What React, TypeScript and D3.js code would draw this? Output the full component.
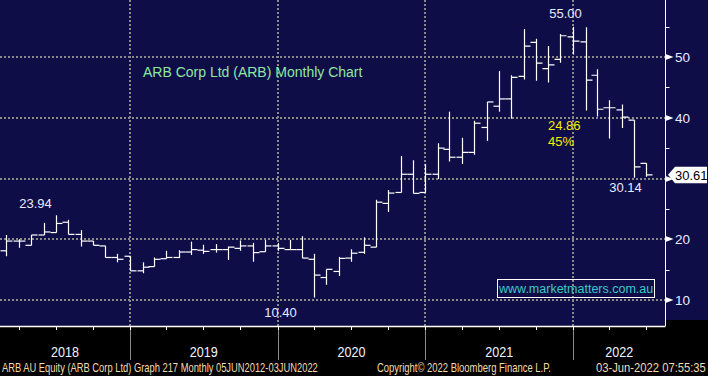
import React, { useLayoutEffect, useRef, useState } from 'react';
import * as d3 from 'd3';

// ARB Corp Ltd monthly OHLC, Feb 2018 .. Jun 2022
const months = [
  '2018-02','2018-03','2018-04','2018-05','2018-06','2018-07','2018-08','2018-09','2018-10','2018-11','2018-12',
  '2019-01','2019-02','2019-03','2019-04','2019-05','2019-06','2019-07','2019-08','2019-09','2019-10','2019-11','2019-12',
  '2020-01','2020-02','2020-03','2020-04','2020-05','2020-06','2020-07','2020-08','2020-09','2020-10','2020-11','2020-12',
  '2021-01','2021-02','2021-03','2021-04','2021-05','2021-06','2021-07','2021-08','2021-09','2021-10','2021-11','2021-12',
  '2022-01','2022-02','2022-03','2022-04','2022-05','2022-06'
];
const opens = [
  18.1,19.7,19.0,20.7,21.1,22.8,20.8,19.7,18.9,17.0,17.2,
  14.8,15.5,16.8,17.0,17.9,18.2,18.3,18.3,18.5,18.9,17.95,18.9,
  18.3,18.3,16.7,13.7,14.7,16.9,17.85,18.7,25.9,27.7,30.7,27.7,
  30.7,34.8,33.5,34.3,38.4,41.9,43.1,46.8,52.4,48.1,49.6,53.3,
  52.5,47.0,41.65,41.3,39.6,32.5
];
const highs = [
  20.7,20.0,20.7,22.7,23.94,23.2,21.5,19.7,18.9,17.6,17.2,
  16.2,17.0,18.1,18.2,19.6,19.1,19.2,18.8,19.8,19.4,19.9,19.4,
  19.9,20.5,17.6,15.05,17.1,18.35,20.3,26.5,28.1,33.7,33.0,32.4,
  35.8,41.0,36.7,39.5,42.6,47.7,47.0,54.6,53.0,51.8,53.8,55.0,
  54.9,48.0,42.9,42.2,39.6,32.5
];
const lows = [
  17.2,18.6,19.0,20.7,21.1,20.8,18.8,19.0,17.0,16.2,14.8,
  14.4,15.5,16.8,16.9,17.4,17.6,17.8,16.6,18.1,16.3,17.95,18.1,
  18.3,16.9,10.4,12.5,13.95,16.3,17.6,18.7,24.5,27.7,27.55,27.7,
  29.9,32.8,32.4,33.9,36.2,41.0,39.85,46.3,46.1,45.8,49.05,50.4,
  41.2,40.2,36.6,38.3,30.14,30.3
];
const closes = [
  19.7,19.7,20.7,21.2,22.6,20.8,19.7,19.0,17.0,16.7,14.8,
  15.4,16.7,17.0,17.9,18.3,18.0,18.3,18.7,18.9,17.8,18.9,18.5,
  18.3,16.9,14.1,15.05,16.85,17.7,19.0,26.1,27.6,30.7,27.55,30.7,
  35.0,33.5,34.3,39.1,42.6,43.1,46.65,51.8,49.0,48.7,53.5,52.6,
  46.2,41.4,41.65,40.1,31.9,30.61
];
const priceTicks = [10, 20, 30, 40, 50];
const minorTicks = [15, 25, 35, 45, 55];
const years = [2018, 2019, 2020, 2021, 2022];
const lastPrice = 30.61;

const W = 708;
const H = 376;
const AXIS_X = 665.5;
const PLOT_BOTTOM = 326;
const FONT = "'Liberation Sans', Arial, sans-serif";
const NAVY = '#0f0d48';
const GRID = '#8a8a8a';
const LABEL = '#e4ecff';
const FOOT = '#f2dcb0';

// text squeezed horizontally to a target width (condensed Bloomberg font)
function FitText(props: { x: number; y: number; width: number; anchor?: 'start' | 'middle'; size: number; fill: string; children: string }) {
  const ref = useRef<SVGTextElement>(null);
  const [k, setK] = useState(1);
  useLayoutEffect(() => {
    if (ref.current) {
      const w = ref.current.getComputedTextLength();
      if (w > 0) setK(props.width / w);
    }
  }, [props.width, props.children]);
  const x0 = props.anchor === 'middle' ? props.x : props.x;
  return (
    <text ref={ref} transform={`translate(${x0},${props.y}) scale(${k},1)`} x={0} y={0}
      fill={props.fill} fontSize={props.size} fontFamily={FONT} textAnchor={props.anchor || 'start'}>
      {props.children}
    </text>
  );
}

export default function App() {
  const x = d3.scaleTime()
    .domain([new Date(2019, 0, 1), new Date(2022, 0, 1)])
    .range([130, 573]);
  const y = d3.scaleLinear().domain([10, 50]).range([300, 57]);

  // each monthly bar is stamped at the end of its month
  const barDate = (m: string) => {
    const [yy, mm] = m.split('-').map(Number);
    return new Date(yy, mm, 1);
  };
  const bars = months.map((m, i) => ({
    x: Math.round(x(barDate(m))) + 0.5,
    o: y(opens[i]), h: y(highs[i]), l: y(lows[i]), c: y(closes[i]),
  }));
  const idx = (m: string) => months.indexOf(m);

  const yearX = years.map((yr) => x(new Date(yr, 0, 1)));
  const quarterTicks = d3.timeMonth
    .every(3)!
    .range(new Date(2018, 0, 1), new Date(2022, 7, 1))
    .map((d) => x(d))
    .filter((v) => v >= 0 && v <= AXIS_X);

  const cy = y(lastPrice);
  const TL = 6;

  const annot = (m: string, field: number[], dx: number, dy: number, txt: string) => {
    const i = idx(m);
    return (
      <text x={bars[i].x + dx} y={y(field[i]) + dy} fill={LABEL} fontSize={13} fontFamily={FONT} textAnchor="middle">{txt}</text>
    );
  };

  return (
    <svg width={W} height={H} style={{ position: 'absolute', left: 0, top: 0, display: 'block' }}>
      <rect x={0} y={0} width={W} height={H} fill="#000" />
      <rect x={0} y={0} width={AXIS_X} height={PLOT_BOTTOM} fill={NAVY} />
      <rect x={AXIS_X} y={0} width={W - AXIS_X} height={320} fill={NAVY} />

      {/* grid */}
      <g stroke={GRID} strokeWidth={2} strokeDasharray="2 2">
        {priceTicks.map((t) => (
          <line key={t} x1={0} x2={AXIS_X} y1={Math.round(y(t))} y2={Math.round(y(t))} />
        ))}
        {yearX.slice(1).map((v, i) => (
          <line key={i} x1={Math.round(v)} x2={Math.round(v)} y1={0} y2={PLOT_BOTTOM} />
        ))}
      </g>

      {/* OHLC bars */}
      <defs>
        <clipPath id="plotclip"><rect x={0} y={0} width={AXIS_X} height={PLOT_BOTTOM} /></clipPath>
      </defs>
      <g stroke="#fff" strokeWidth={1.2} clipPath="url(#plotclip)">
        {bars.map((b, i) => (
          <g key={i}>
            <line x1={b.x} x2={b.x} y1={b.h} y2={b.l} />
            <line x1={b.x - TL} x2={b.x} y1={b.o} y2={b.o} />
            <line x1={b.x} x2={b.x + TL} y1={b.c} y2={b.c} />
          </g>
        ))}
      </g>

      {/* title and annotations */}
      <text x={143} y={77} fill="#8fe6a0" fontSize={14} fontFamily={FONT}>ARB Corp Ltd (ARB) Monthly Chart</text>
      {annot('2018-06', highs, -21, -7, '23.94')}
      {annot('2020-03', lows, -34, 19, '10.40')}
      {annot('2021-12', highs, -8, -9, '55.00')}
      {annot('2022-05', lows, -9, 14, '30.14')}
      <text x={548} y={130} fill="#f2f000" fontSize={13} fontFamily={FONT}>24.86</text>
      <text x={548} y={146} fill="#f2f000" fontSize={13} fontFamily={FONT}>45%</text>

      {/* website box */}
      <rect x={497.5} y={279.5} width={157} height={18} fill="none" stroke="#fff" strokeWidth={1} />
      <text x={499} y={293} fill="#3ec8c4" fontSize={12.5} fontFamily={FONT}>www.marketmatters.com.au</text>

      {/* right axis */}
      <line x1={AXIS_X} x2={AXIS_X} y1={0} y2={PLOT_BOTTOM} stroke="#fff" strokeWidth={1} />
      {minorTicks.map((t) => (
        <line key={t} x1={AXIS_X} x2={AXIS_X + 4} y1={Math.round(y(t)) + 0.5} y2={Math.round(y(t)) + 0.5} stroke="#fff" strokeWidth={1} />
      ))}
      {priceTicks.map((t) => {
        const ty = Math.round(y(t));
        const hidden = Math.abs(y(t) - cy) < 12; // covered by the last-price tag
        return (
          <g key={t}>
            <path d={`M${AXIS_X},${ty - 3} L${AXIS_X + 8},${ty} L${AXIS_X},${ty + 3} Z`} fill="#fff" />
            {!hidden && <text x={675} y={ty + 5} fill={LABEL} fontSize={13.5} fontFamily={FONT}>{t}</text>}
          </g>
        );
      })}
      <path d={`M668,${cy} L675,${cy - 8} L707,${cy - 8} L707,${cy + 8.5} L675,${cy + 8.5} Z`} fill="#fff" />
      <text x={675} y={cy + 5} fill="#000" fontSize={13} fontFamily={FONT}>{lastPrice.toFixed(2)}</text>

      {/* bottom axis */}
      <line x1={0} x2={AXIS_X} y1={PLOT_BOTTOM + 0.5} y2={PLOT_BOTTOM + 0.5} stroke="#fff" strokeWidth={1.5} />
      {quarterTicks.map((v, i) => (
        <line key={i} x1={Math.round(v) + 0.5} x2={Math.round(v) + 0.5} y1={PLOT_BOTTOM} y2={PLOT_BOTTOM + 4} stroke="#fff" strokeWidth={1} />
      ))}
      {yearX.slice(1).map((v, i) => (
        <line key={i} x1={Math.round(v) + 0.5} x2={Math.round(v) + 0.5} y1={PLOT_BOTTOM + 4} y2={360} stroke="#8a8a8a" strokeWidth={1} />
      ))}
      {years.map((yr, i) => {
        const a = Math.max(0, yearX[i]);
        const b = i + 1 < years.length ? yearX[i + 1] : AXIS_X;
        return (
          <FitText key={yr} x={(a + Math.min(b, AXIS_X)) / 2} y={356.5} size={15} fill="#f0f2ff" anchor="middle" width={28}>{String(yr)}</FitText>
        );
      })}

      {/* footer */}
      <FitText x={2} y={371.5} size={12} fill={FOOT} width={316}>ARB AU Equity (ARB Corp Ltd) Graph 217  Monthly 05JUN2012-03JUN2022</FitText>
      <FitText x={377} y={371.5} size={12} fill={FOOT} width={174}>Copyright© 2022 Bloomberg Finance L.P.</FitText>
      <FitText x={596} y={371.5} size={12} fill={FOOT} width={110}>03-Jun-2022 07:55:35</FitText>
    </svg>
  );
}
